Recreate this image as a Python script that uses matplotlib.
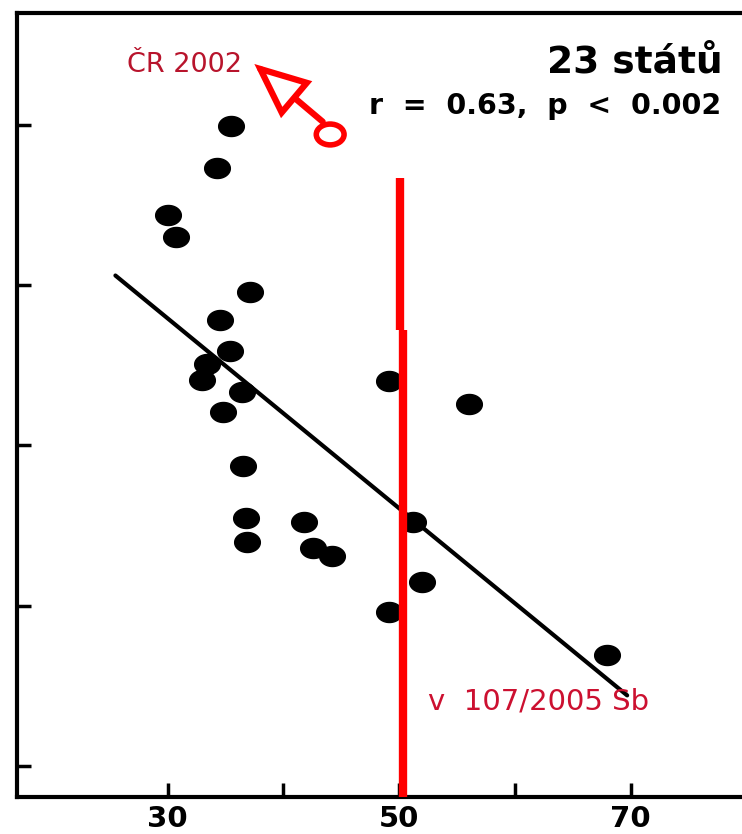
import numpy as np
import matplotlib.pyplot as plt
from matplotlib.path import Path
from matplotlib.patches import Ellipse

# 23 states: x value and (unlabelled) y value
x_vals = [35.5, 34.3, 30.0, 30.7, 37.1, 34.5, 35.4, 33.4, 33.0, 36.4, 34.8,
          49.1, 56.0, 36.5, 36.8, 36.9, 41.8, 42.6, 44.2, 51.2, 52.0, 49.1, 68.0]
y_vals = [3.99, 3.73, 3.44, 3.30, 2.96, 2.78, 2.59, 2.51, 2.41, 2.33, 2.21,
          2.40, 2.26, 1.87, 1.55, 1.40, 1.52, 1.36, 1.31, 1.52, 1.15, 0.96, 0.69]

# regression line ends
fit_x = [25.5, 69.7]
fit_y = [3.06, 0.44]

# red limit line (two slightly offset pieces, as drawn by hand)
limit_x = [50.1, 50.35]
limit_top = [3.67, 2.72]
limit_bot = [2.72, -0.2]

x_ticks = [30, 40, 50, 60, 70]
x_labels = ["30", "", "50", "", "70"]
y_ticks = [0, 1, 2, 3, 4]

# annotation: CR 2002 arrow and circle
arrow_tip = (37.5, 4.38)
arrow_tail = (43.4, 4.02)
circle_xy = (44.05, 3.94)

fig = plt.figure(figsize=(7.42, 8.34), dpi=100)
ax = fig.add_axes([17/742, 37/834, 729.4/742, 784/834])
ax.set_xlim(17, 80)
ax.set_ylim(-0.194, 4.698)

# ellipse shaped dots
t = np.linspace(0, 2*np.pi, 60)
dot = Path(np.column_stack([np.cos(t), 0.78*np.sin(t)]), closed=True)

ax.plot(fit_x, fit_y, color="black", lw=3, solid_capstyle="round", zorder=2)
ax.scatter(x_vals, y_vals, marker=dot, s=18.5**2, color="black", zorder=3)

ax.plot([limit_x[0]]*2, limit_top, color="#ff0000", lw=6, zorder=4,
        solid_capstyle="butt")
ax.plot([limit_x[1]]*2, limit_bot, color="#ff0000", lw=6, zorder=4,
        solid_capstyle="butt")

ax.annotate("", xy=arrow_tip, xytext=arrow_tail,
            arrowprops=dict(arrowstyle="-|>,head_length=3.2,head_width=1.4",
                            fc="white", ec="#ff0000", lw=4.5, shrinkA=0, shrinkB=0,
                            joinstyle="miter"),
            zorder=5)
ax.add_patch(Ellipse(circle_xy, 2.4, 0.13, fc="white", ec="#ff0000", lw=4, zorder=5))

ax.text(26.5, 4.375, "ČR 2002", color="#b8142c", fontsize=19.5, va="center", ha="left")
ax.text(77.95, 4.39, "23 států", color="black", fontsize=27, fontweight="bold",
        va="center", ha="right")
ax.text(77.8, 4.12, "r  =  0.63,  p  <  0.002", color="black", fontsize=20.5,
        fontweight="bold", va="center", ha="right")
ax.text(52.5, 0.405, "v  107/2005 Sb", color="#cc1030", fontsize=21,
        va="center", ha="left")

ax.set_xticks(x_ticks)
ax.set_xticklabels(x_labels, fontsize=21, fontweight="bold")
ax.set_yticks(y_ticks)
ax.set_yticklabels([])
ax.tick_params(direction="in", length=10, width=2.5, pad=6)
for s in ax.spines.values():
    s.set_linewidth(3)

fig.savefig("out.png", dpi=100)
